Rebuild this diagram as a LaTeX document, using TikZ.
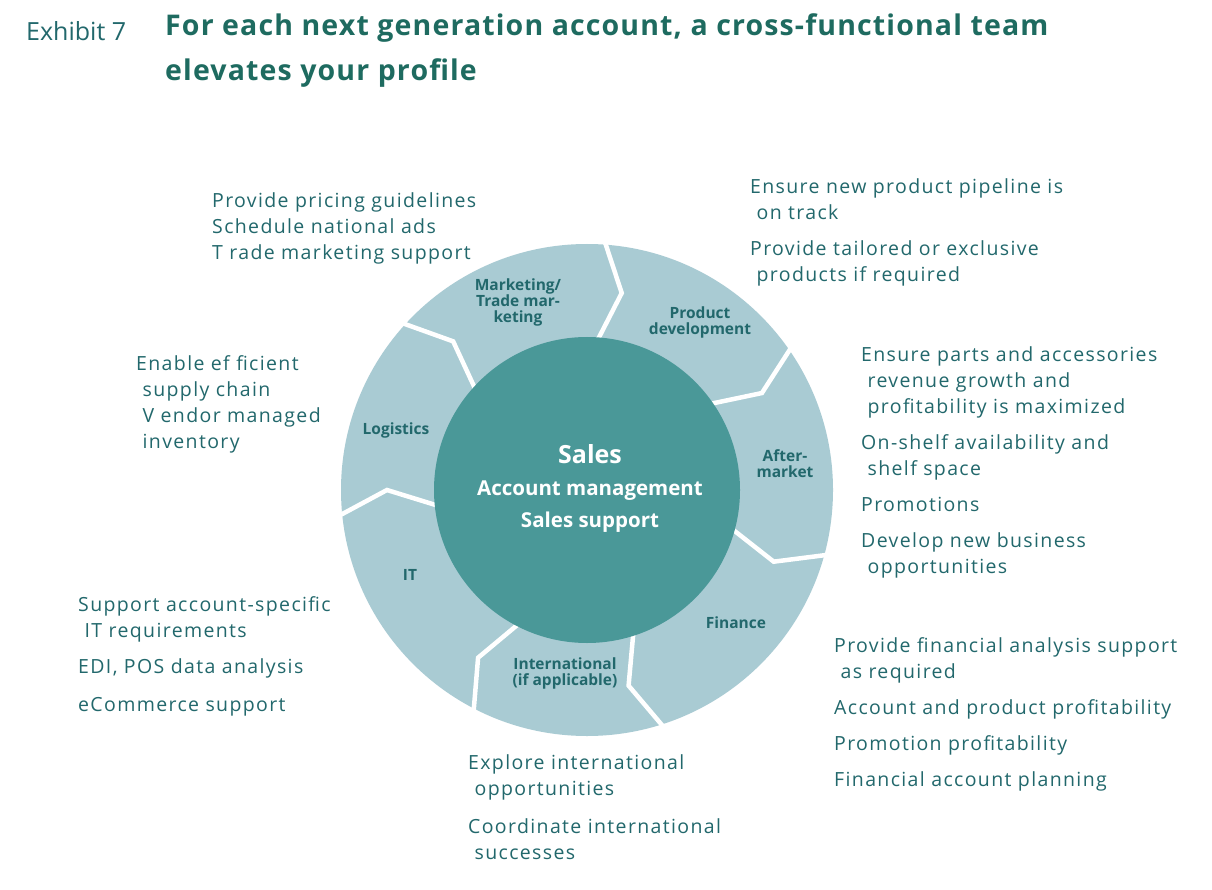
\documentclass[tikz,border=0pt]{standalone}
\usepackage{fontspec}
\usetikzlibrary{calc}
\setmainfont{Open Sans}
\newfontfamily\wide[LetterSpace=7]{Open Sans}
\newfontfamily\widett[LetterSpace=4]{Open Sans}
\definecolor{ring}{HTML}{A9CBD3}
\definecolor{core}{HTML}{4A9898}
\definecolor{txt}{HTML}{22686C}
\definecolor{ttl}{HTML}{1E6B60}
\begin{document}
\begin{tikzpicture}[x=1pt,y=-1pt,
  body/.style={anchor=north west,align=left,inner sep=0pt,text=txt,font=\wide\fontsize{19.5}{26}\selectfont},
  seg/.style={align=center,text=txt,font=\bfseries\fontsize{15.5}{16}\selectfont,inner sep=0pt},
  sep/.style={white,line width=4.5pt,line join=miter}]
\useasboundingbox[fill=white] (0,0) rectangle (1212,890);
\node[anchor=west,inner sep=0pt,text=txt,font=\fontsize{25}{30}\selectfont] (ex) at (26,31) {Exhibit 7};
\node[anchor=north west,align=left,inner sep=0pt,text=ttl,font=\widett\bfseries\fontsize{28.5}{45}\selectfont] (title) at (165,13) {For each next generation account, a cross-functional team\\elevates your profile};
\coordinate (c) at (587,490);
\fill[ring] (c) circle (246);
\foreach \a in {86,35,-15,-72,-117,-174,138}{
  \draw[sep] ($(c)+(-\a:250)$) -- ($(c)+(-\a+6:200)$) -- ($(c)+(-\a:150)$);
}
\fill[core] (c) circle (153);
\node[align=center,text=white,font=\bfseries\fontsize{20.5}{32}\selectfont] (sales) at (590,488) {{\fontsize{25}{32}\selectfont Sales}\\Account management\\Sales support};
\node[seg] (mk) at (518,302) {Marketing/\\Trade mar-\\keting};
\node[seg] (pd) at (700,322) {Product\\development};
\node[seg] (am) at (785,464) {After-\\market};
\node[seg] (fi) at (736,623) {Finance};
\node[seg] (in) at (565,673) {International\\(if applicable)};
\node[seg] (it) at (410,575) {IT};
\node[seg] (lo) at (396,430) {Logistics};
\node[body] (t1) at (212,192) {Provide pricing guidelines\\Schedule national ads\\T rade marketing support};
\node[body] (t2) at (750,178) {Ensure new product pipeline is\\ \ on track\\[10pt]Provide tailored or exclusive\\ \ products if required};
\node[body] (t3) at (861,346) {Ensure parts and accessories\\ \ revenue growth and\\ \ profitability is maximized\\[10pt]On-shelf availability and\\ \ shelf space\\[10pt]Promotions\\[10pt]Develop new business\\ \ opportunities};
\node[body] (t4) at (136,355) {Enable ef ficient\\ \ supply chain\\ \ V endor managed\\ \ inventory};
\node[body] (t5) at (78,596) {Support account-specific\\ \ IT requirements\\[10pt]EDI, POS data analysis\\[12pt]eCommerce support};
\node[body] (t6) at (468,754) {Explore international\\ \ opportunities\\[12pt]Coordinate international\\ \ successes};
\node[body] (t7) at (834,637) {Provide financial analysis support\\ \ as required\\[10pt]Account and product profitability\\[10pt]Promotion profitability\\[10pt]Financial account planning};
\end{tikzpicture}
\end{document}
